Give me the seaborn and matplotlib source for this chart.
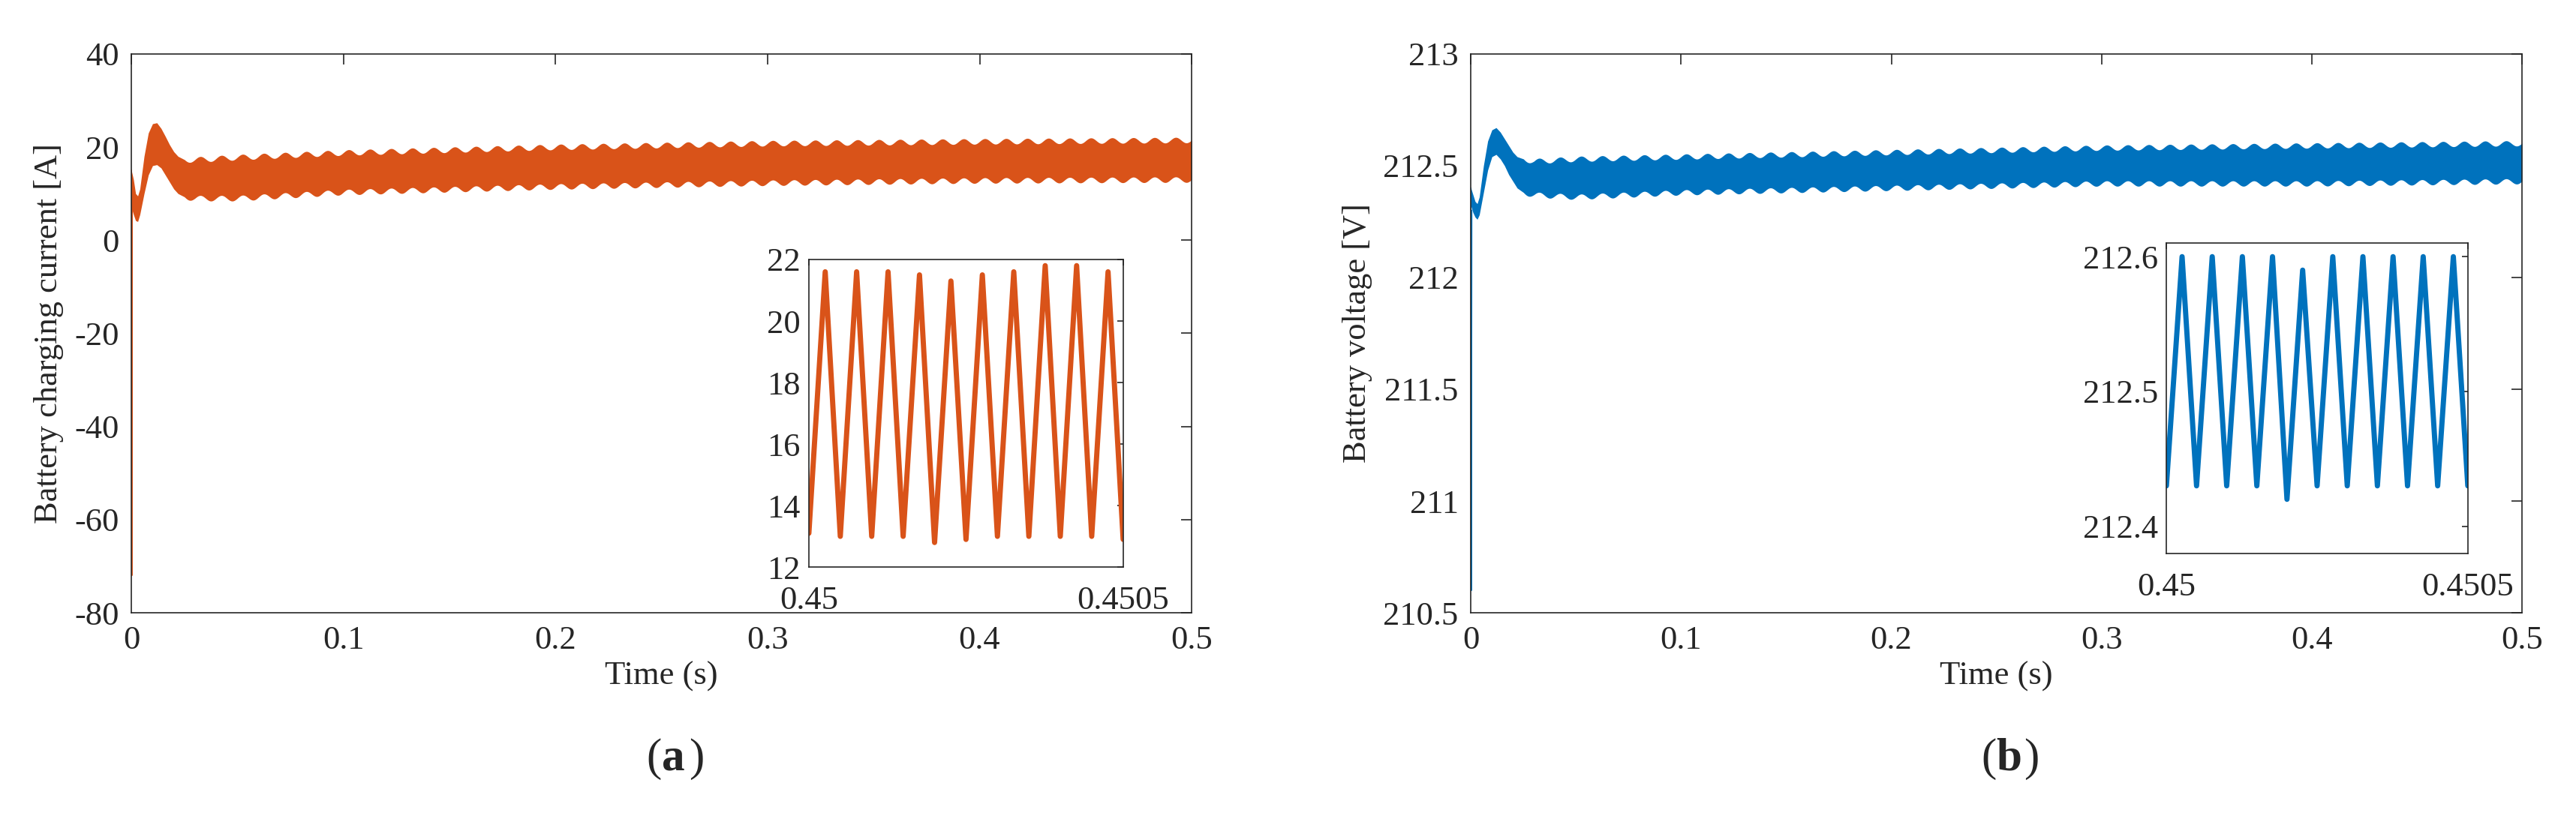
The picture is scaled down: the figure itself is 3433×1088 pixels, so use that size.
import numpy as np
import pandas as pd
import seaborn as sns
import matplotlib
matplotlib.use("Agg")
import matplotlib.pyplot as plt

sns.set_style("white")
plt.rcParams['font.family'] = ['Liberation Serif', 'DejaVu Serif']

ORANGE = "#D95319"
BLUE = "#0072BD"

# ---- envelope knots (time s, upper, lower) ----
cur_t     = [0.0, 0.001, 0.002, 0.003, 0.004, 0.006, 0.008, 0.010, 0.012, 0.014, 0.016, 0.018, 0.020, 0.022, 0.025, 0.03, 0.05, 0.1, 0.2, 0.3, 0.4, 0.5]
cur_upper = [15.0, 13.0, 10.0, 9.5, 11.0, 18.0, 23.0, 25.0, 25.2, 24.0, 22.3, 20.5, 19.0, 18.0, 17.3, 17.3, 17.8, 18.8, 20.0, 20.8, 21.2, 21.5]
cur_lower = [7.0, 5.5, 4.2, 4.0, 5.5, 10.0, 14.0, 16.0, 16.2, 15.5, 14.0, 12.5, 11.0, 10.0, 9.3, 9.0, 9.0, 10.3, 11.5, 12.3, 12.8, 13.0]
cur_spike_t = [0.0, 0.0002, 0.0004]
cur_spike_v = [15.0, -72.0, 8.0]

vol_t     = [0.0, 0.001, 0.002, 0.003, 0.004, 0.006, 0.008, 0.010, 0.012, 0.014, 0.016, 0.018, 0.020, 0.022, 0.025, 0.03, 0.05, 0.1, 0.2, 0.3, 0.4, 0.5]
vol_upper = [212.40, 212.37, 212.34, 212.33, 212.36, 212.50, 212.61, 212.66, 212.67, 212.65, 212.62, 212.59, 212.56, 212.54, 212.53, 212.52, 212.53, 212.54, 212.56, 212.58, 212.59, 212.60]
vol_lower = [212.32, 212.29, 212.27, 212.26, 212.28, 212.38, 212.48, 212.54, 212.55, 212.53, 212.50, 212.46, 212.43, 212.40, 212.38, 212.37, 212.36, 212.38, 212.40, 212.42, 212.42, 212.43]
vol_spike_t = [0.0, 0.0002, 0.0004]
vol_spike_v = [212.4, 210.6, 212.3]

ripple_amp_cur = 0.6    # slow 100 Hz modulation of the band edges
ripple_amp_vol = 0.012

# ---- inset zig-zag extremes ----
ins_cur_peaks   = [21.6, 21.6, 21.6, 21.5, 21.3, 21.5, 21.6, 21.8, 21.8, 21.6]
ins_cur_troughs = [13.1, 13.0, 13.0, 13.0, 12.8, 12.9, 13.0, 13.0, 13.0, 13.0, 12.9]
ins_vol_peaks   = [212.60, 212.60, 212.60, 212.60, 212.59, 212.60, 212.60, 212.60, 212.60, 212.60]
ins_vol_troughs = [212.43, 212.43, 212.43, 212.43, 212.42, 212.43, 212.43, 212.43, 212.43, 212.43, 212.43]

x_ticks_main = [0, 0.1, 0.2, 0.3, 0.4, 0.5]
cur_yticks = [-80, -60, -40, -20, 0, 20, 40]
vol_yticks = [210.5, 211, 211.5, 212, 212.5, 213]

FS = 32

def band(t_knots, up, lo, amp):
    t = np.linspace(0, 0.5, 8000)
    u = np.interp(t, t_knots, up)
    l = np.interp(t, t_knots, lo)
    m = np.where(t > 0.025, amp * np.sin(2 * np.pi * 100 * t), 0)
    return t, u + m, l + m

def zig(peaks, troughs):
    tt, vv = [], []
    for k in range(len(troughs)):
        tt.append(0.45 + k * 0.00005); vv.append(troughs[k])
        if k < len(peaks):
            tt.append(0.45 + k * 0.00005 + 0.000026); vv.append(peaks[k])
    return pd.DataFrame({"t": tt, "v": vv})

def style(ax):
    ax.tick_params(direction="in", top=True, right=True, labelsize=FS, length=10, width=1.2, pad=12)
    for s in ax.spines.values():
        s.set_visible(True); s.set_color("#262626"); s.set_linewidth(1.2)

fig = plt.figure(figsize=(34.33, 10.88), dpi=100)
axA = fig.add_axes([0.051, 0.249, 0.4116, 0.685])
axB = fig.add_axes([0.571, 0.249, 0.408, 0.685])

panels = [
    (axA, cur_t, cur_upper, cur_lower, ripple_amp_cur, cur_spike_t, cur_spike_v, ORANGE,
     (-80, 40), cur_yticks, "Battery charging current [A]", "(a)"),
    (axB, vol_t, vol_upper, vol_lower, ripple_amp_vol, vol_spike_t, vol_spike_v, BLUE,
     (210.5, 213), vol_yticks, "Battery voltage [V]", "(b)"),
]
for ax, tk, up, lo, amp, st, sv, col, yl, yt, lab, tag in panels:
    t, u, l = band(tk, up, lo, amp)
    ax.fill_between(t, l, u, color=col, lw=0)
    sns.lineplot(x=st, y=sv, ax=ax, color=col, lw=1.2)
    ax.set_xlim(0, 0.5); ax.set_ylim(*yl)
    ax.set_xticks(x_ticks_main); ax.set_xticklabels(["0", "0.1", "0.2", "0.3", "0.4", "0.5"])
    ax.set_yticks(yt)
    ax.set_yticklabels([f"{v:g}" for v in yt])
    ax.set_xlabel("Time (s)", fontsize=FS, labelpad=6)
    ax.set_ylabel(lab, fontsize=FS, labelpad=10)
    style(ax)
    cx = (ax.get_position().x0 + ax.get_position().x1) / 2
    fig.text(cx, 0.07, "(", fontsize=44, ha="right", va="center")
    fig.text(cx, 0.07, tag[1], fontsize=44, ha="left", va="center", weight="bold")
    fig.text(cx + 0.0105, 0.07, ")", fontsize=44, ha="left", va="center")

insA = fig.add_axes([0.314, 0.305, 0.122, 0.377])
insB = fig.add_axes([0.841, 0.322, 0.117, 0.380])
for ins, pk, tr, col, yl, yt in [
    (insA, ins_cur_peaks, ins_cur_troughs, ORANGE, (12, 22), [12, 14, 16, 18, 20, 22]),
    (insB, ins_vol_peaks, ins_vol_troughs, BLUE, (212.38, 212.61), [212.4, 212.5, 212.6]),
]:
    df = zig(pk, tr)
    sns.lineplot(data=df, x="t", y="v", ax=ins, color=col, lw=5)
    ins.set_xlim(0.45, 0.4505); ins.set_ylim(*yl)
    ins.set_xticks([0.45, 0.4505]); ins.set_xticklabels(["0.45", "0.4505"])
    ins.set_yticks(yt); ins.set_yticklabels([f"{v:g}" for v in yt])
    ins.set_xlabel(""); ins.set_ylabel("")
    style(ins)
    ins.tick_params(length=6, pad=8)
    ins.tick_params(axis="x", pad=18)

fig.savefig("out.png", dpi=100, facecolor="white")
